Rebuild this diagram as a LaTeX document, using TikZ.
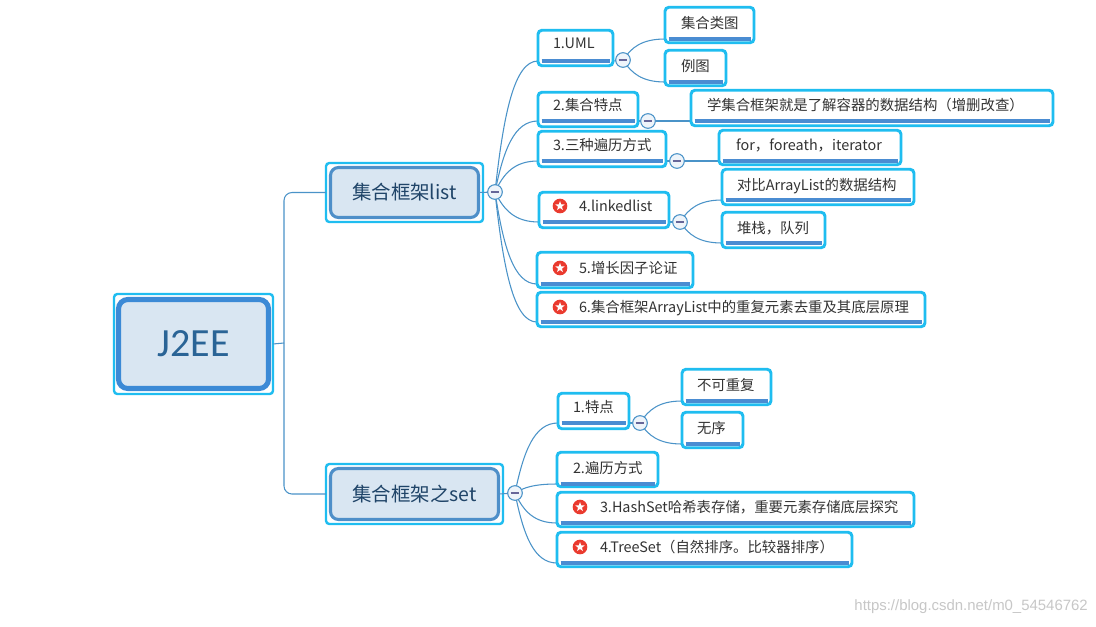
\documentclass[tikz,border=0pt]{standalone}
\usepackage{fontspec}
\setmainfont{Noto Sans CJK SC}
\newfontfamily\wmfont{Liberation Sans}
\newfontfamily\rootfont{Carlito}
\usetikzlibrary{calc,shapes.geometric}
\definecolor{cyanline}{HTML}{1FBDF0}
\definecolor{barblue}{HTML}{4A8CD2}
\definecolor{connblue}{HTML}{4A93C8}
\definecolor{mainfill}{HTML}{D9E6F2}
\definecolor{rootborder}{HTML}{3C8AD6}
\definecolor{mainborder}{HTML}{4E8FC9}
\definecolor{maintext}{HTML}{1F4468}
\definecolor{roottext}{HTML}{2A6496}
\definecolor{leaftext}{HTML}{333333}
\definecolor{starred}{HTML}{EA3A2E}
\definecolor{collapsefill}{HTML}{EEF4FA}
\tikzset{
  outerbox/.style={draw=cyanline,line width=2.2pt,rounded corners=3pt,fill=white,inner sep=0pt,outer sep=0pt},
  mainbox/.style={draw=mainborder,line width=2.3pt,rounded corners=6pt,fill=mainfill,inner sep=0pt,outer sep=0pt,text=maintext,font=\fontsize{14.6}{18}\selectfont},
  rootbox/.style={draw=rootborder,line width=3.8pt,rounded corners=7pt,fill=mainfill,inner sep=0pt,outer sep=0pt,text=roottext,font=\rootfont\fontsize{30}{36}\selectfont},
  thinouter/.style={draw=cyanline,line width=1.8pt,rounded corners=2.5pt,fill=white,inner sep=0pt,outer sep=0pt},
  barline/.style={draw=barblue,line width=2.6pt},
  conn/.style={draw=connblue,line width=0.8pt},
  collapse/.style={circle,draw=connblue,line width=0.8pt,fill=collapsefill,minimum size=11pt,inner sep=0pt,outer sep=0pt,
    path picture={\draw[draw=gray!80!blue,line width=0.8pt] ([xshift=-3.2pt]path picture bounding box.center) -- ([xshift=3.2pt]path picture bounding box.center);}},
  redball/.style={circle,fill=starred,minimum size=11pt,inner sep=0pt,outer sep=0pt},
  whitestar/.style={star,star points=5,star point ratio=2.4,fill=white,minimum size=7.4pt,inner sep=0pt,outer sep=0pt},
}
\newcommand{\barof}[4]{%
  \coordinate (#1A) at (#2,#4);
  \coordinate (#1B) at (#3,#4);
  \draw[barline] ($(#1A)+(3.5,0)$) -- ($(#1B)+(-3.5,0)$);
}
% \lbox[text offset]{name}{x1}{y1}{x2}{y2}{text}{bar y}{text centre below y1}
\newcommand{\lbox}[9][15]{%
  \node[outerbox,text=leaftext,font=\fontsize{10.8}{12}\selectfont,anchor=center,
        minimum width={(#5-#3-2.5)*0.75pt},minimum height={(#6-#4-2.5)*0.75pt}]
    (#2) at ({(#3+#5)/2},{(#4+#6)/2})
    {\makebox[\dimexpr(#5pt-#3pt)*3/4\relax][l]{\hspace*{\dimexpr #1pt*3/4\relax}\smash{\raisebox{\fpeval{((#6-#4)/2-#9)*0.75-4.1}pt}{#7}}}};
  \barof{#2}{#3}{#5}{#8}
}
\newcommand{\starmark}[3]{%
  \node[redball] (#1ball) at (#2,#3) {};
  \node[whitestar] (#1star) at (#2,#3) {};
}
\newcommand{\curveto}[2]{%
  \coordinate (tmpa) at ($(#1.center)!.2!(#2)$);
  \coordinate (tmpb) at ($(#1.center)!.6!(#2)$);
  \coordinate (tmpc) at ($(#1.center)!.45!(#2)$);
  \draw[conn] (#1.center) .. controls (tmpa |- tmpb) and (tmpc |- #2) .. (#2);
}
\begin{document}
\begin{tikzpicture}[x=0.75pt,y=-0.75pt]
\useasboundingbox (0,0) rectangle (1096,626);
\fill[white] (0,0) rectangle (1096,626);

\coordinate (trunk) at (284,343);

% connector end points on the bars of the boxes
\coordinate (umlL) at (538,61);       \coordinate (umlR) at (613,61);
\coordinate (tL) at (538,121);        \coordinate (tR) at (638,121);
\coordinate (wL) at (538,161);        \coordinate (wR) at (666,161);
\coordinate (llL) at (539,222);       \coordinate (llR) at (669,222);
\coordinate (gL) at (537,284);
\coordinate (dL) at (537,322);
\coordinate (classL) at (665,39);
\coordinate (exL) at (665,82);
\coordinate (learnL) at (691,121);
\coordinate (forL) at (719,161);
\coordinate (cmpL) at (722,200);
\coordinate (stackL) at (722,243);
\coordinate (fL) at (558,423);        \coordinate (fR) at (629,423);
\coordinate (nrL) at (682,401);
\coordinate (noL) at (682,444);
\coordinate (trL) at (557,484);
\coordinate (hsL) at (557,523);
\coordinate (tsL) at (557,563);

% root and main topics
\node[thinouter,minimum width={(161-2)*0.75pt},minimum height={(102-2)*0.75pt}] (rootout) at (193.5,344) {};
\node[rootbox,minimum width={(155-5)*0.75pt},minimum height={(94-5)*0.75pt}] (root) at (193.5,344) {J2EE};
\node[thinouter,minimum width={(159-2)*0.75pt},minimum height={(61-2)*0.75pt}] (listout) at (404.5,192.5) {};
\node[mainbox,minimum width={(151-3)*0.75pt},minimum height={(53-3)*0.75pt}] (list) at (404.5,192.5) {集合框架list};
\node[thinouter,minimum width={(179-2)*0.75pt},minimum height={(62-2)*0.75pt}] (setout) at (414.5,494) {};
\node[mainbox,minimum width={(171-3)*0.75pt},minimum height={(54-3)*0.75pt}] (set) at (414.5,494) {集合框架之set};

% collapse positions
\coordinate (clist) at (495,192);
\coordinate (cset) at (515,493);
\coordinate (cuml) at (623,60);
\coordinate (ct) at (648,121);
\coordinate (cw) at (677,161);
\coordinate (cll) at (680,222);
\coordinate (cf) at (640,423);

% connectors
\draw[conn,rounded corners=6pt] (listout.west) -| (trunk) |- (setout.west);
\draw[conn] (rootout.east) -- (trunk);
\draw[conn] (list.east) -- (clist);
\draw[conn] (set.east) -- (cset);
\curveto{clist}{umlL}
\curveto{clist}{tL}
\curveto{clist}{wL}
\curveto{clist}{llL}
\curveto{clist}{gL}
\curveto{clist}{dL}
\curveto{cuml}{classL}
\curveto{cuml}{exL}
\curveto{cll}{cmpL}
\curveto{cll}{stackL}
\curveto{cset}{fL}
\curveto{cset}{trL}
\curveto{cset}{hsL}
\curveto{cset}{tsL}
\curveto{cf}{nrL}
\curveto{cf}{noL}
\draw[conn] (umlR) -- (cuml);
\draw[conn] (tR) -- (ct);
\draw[conn] (ct) -- (learnL);
\draw[conn] (wR) -- (cw);
\draw[conn] (cw) -- (forL);
\draw[conn] (llR) -- (cll);
\draw[conn] (fR) -- (cf);

% collapse markers above the connectors
\node[collapse] (mlist) at (clist) {};
\node[collapse] (mset) at (cset) {};
\node[collapse] (muml) at (cuml) {};
\node[collapse] (mt) at (ct) {};
\node[collapse] (mw) at (cw) {};
\node[collapse] (mll) at (cll) {};
\node[collapse] (mf) at (cf) {};

% list branch
\lbox{uml}{538}{29}{613}{67}{1.UML}{61}{14.5}
\lbox[16]{class}{665}{6}{754}{44}{集合类图}{39}{17}
\lbox[16]{ex}{665}{49}{726}{87}{例图}{82}{17}
\lbox{t}{538}{91}{638}{128}{2.集合特点}{121}{14.5}
\lbox[16]{learn}{691}{89}{1053}{127}{学集合框架就是了解容器的数据结构（增删改查）}{121}{16}
\lbox{w}{538}{130}{666}{168}{3.三种遍历方式}{161}{15}
\lbox[17]{for}{719}{129}{901}{166}{for，foreath，iterator}{161}{16}
\lbox[40]{ll}{539}{191}{669}{229}{4.linkedlist}{222}{15}
\lbox{cmp}{722}{168}{914}{206}{对比ArrayList的数据结构}{200}{17}
\lbox{stack}{722}{211}{825}{249}{堆栈，队列}{243}{17}
\lbox[42]{g}{537}{251}{693}{289}{5.增长因子论证}{284}{17}
\lbox[42]{d}{537}{291}{925}{328}{6.集合框架ArrayList中的重复元素去重及其底层原理}{322}{16}
\starmark{sll}{560}{206}
\starmark{sg}{560}{268}
\starmark{sd}{560}{307}

% set branch
\lbox{f}{558}{392}{629}{430}{1.特点}{423}{15}
\lbox{nr}{682}{368}{771}{406}{不可重复}{401}{17}
\lbox{no}{682}{411}{743}{449}{无序}{444}{17}
\lbox[16]{tr}{557}{451}{658}{488}{2.遍历方式}{484}{17}
\lbox[43]{hs}{557}{491}{914}{528}{3.HashSet哈希表存储，重要元素存储底层探究}{523}{16}
\lbox[43]{ts}{557}{531}{852}{568}{4.TreeSet（自然排序。比较器排序）}{563}{16}
\starmark{shs}{580}{507}
\starmark{sts}{580}{547}

% watermark
\node[anchor=east,text=black!22,font=\wmfont\fontsize{11.2}{13}\selectfont,inner sep=0pt] (wm) at (1088,607) {https://blog.csdn.net/m0\_54546762};
\end{tikzpicture}
\end{document}
